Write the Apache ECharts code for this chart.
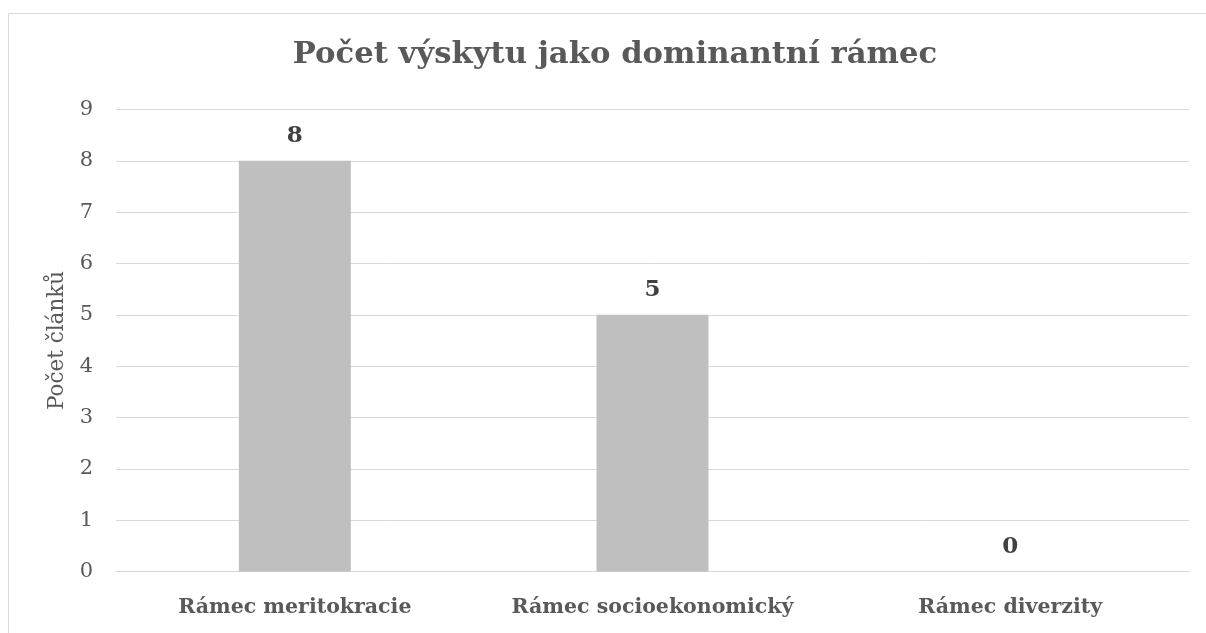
<!DOCTYPE html>
<html>
<head>
<meta charset="utf-8">
<script src="https://cdn.jsdelivr.net/npm/echarts@6/dist/echarts.min.js"></script>
<style>
html,body{margin:0;padding:0;background:#fff;}
#chart{width:1206px;height:633px;}
</style>
</head>
<body>
<div id="chart"></div>
<script>
var titleText = 'Počet výskytu jako dominantní rámec';
var yAxisName = 'Počet článků';
var categories = ['Rámec meritokracie', 'Rámec socioekonomický', 'Rámec diverzity'];
var values = [8, 5, 0];
var yMin = 0, yMax = 9, yInterval = 1;

var FONT = '"DejaVu Serif", "Liberation Serif", serif';
var chart = echarts.init(document.getElementById('chart'));
chart.setOption({
  backgroundColor: '#ffffff',
  animation: false,
  graphic: [{
    type: 'rect',
    shape: {x: 8.5, y: 13.5, width: 1210, height: 640},
    style: {fill: 'none', stroke: '#d9d9d9', lineWidth: 1},
    silent: true
  }],
  title: {
    text: titleText,
    left: 610, textAlign: 'center',
    top: 35,
    textStyle: {fontFamily: FONT, fontWeight: 'bold', fontSize: 30.7, color: '#595959'}
  },
  grid: {left: 116, right: 17, top: 109.5, bottom: 61.5, containLabel: false},
  xAxis: {
    type: 'category',
    data: categories,
    axisLine: {show: true, lineStyle: {color: '#d9d9d9', width: 1}},
    axisTick: {show: false},
    axisLabel: {interval: 0, fontFamily: FONT, fontWeight: 'bold', fontSize: 20.5, color: '#595959', margin: 26}
  },
  yAxis: {
    type: 'value',
    min: yMin, max: yMax, interval: yInterval,
    name: yAxisName,
    nameLocation: 'middle',
    nameGap: 46,
    nameTextStyle: {fontFamily: FONT, fontSize: 21.5, color: '#595959'},
    axisLine: {show: false},
    axisTick: {show: false},
    axisLabel: {fontFamily: FONT, fontSize: 21, color: '#595959', margin: 23},
    splitLine: {lineStyle: {color: '#d9d9d9', width: 1}}
  },
  series: [{
    type: 'bar',
    data: values,
    barWidth: '31.3%',
    itemStyle: {color: '#bfbfbf'},
    label: {
      show: true, position: 'top', distance: 13,
      fontFamily: FONT, fontWeight: 'bold', fontSize: 23, color: '#404040'
    }
  }]
});
</script>
</body>
</html>
